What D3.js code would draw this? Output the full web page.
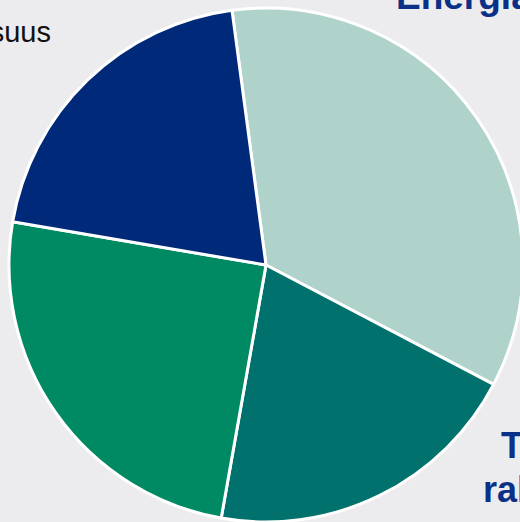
<!DOCTYPE html>
<html><head><meta charset="utf-8">
<script src="https://cdn.jsdelivr.net/npm/d3@7"></script>
<style>html,body{margin:0;padding:0;background:#ececee;}svg{display:block;}</style>
</head><body>
<svg id="c" width="520" height="522"></svg>
<script>
const categories = ["Energiantuotanto", "Teollisuus ja rakentaminen", "Liikenne", "Teollisuus"];
const values = [34.8, 20.1, 24.9, 20.2];
const colors = ["#afd2ca", "#00716c", "#008a63", "#00297a"];

const svg = d3.select("#c");
const cx = 266, cy = 265, r = 257;
const startDeg = -7.6;

const pie = d3.pie().sort(null).value(d => d)
  .startAngle(startDeg * Math.PI / 180)
  .endAngle((startDeg + 360) * Math.PI / 180);
const arc = d3.arc().innerRadius(0).outerRadius(r);
const color = d3.scaleOrdinal().domain(categories).range(colors);

const g = svg.append("g").attr("transform", `translate(${cx},${cy})`);
g.selectAll("path").data(pie(values)).join("path")
  .attr("d", arc)
  .attr("fill", (d, i) => color(categories[i]))
  .attr("stroke", "#fff").attr("stroke-width", 3).attr("stroke-linejoin", "round");

// labels
svg.append("text").attr("x", 396).attr("y", 9)
  .attr("font-family", "Liberation Sans, Arial, sans-serif").attr("font-weight", "bold")
  .attr("font-size", 37).attr("fill", "#0a3087").text("Energiantuotanto");
svg.append("text").attr("x", 51).attr("y", 42).attr("text-anchor", "end")
  .attr("font-family", "Liberation Sans, Arial, sans-serif")
  .attr("font-size", 29).attr("fill", "#111").text("Teollisuus");
const t = svg.append("text").attr("font-family", "Liberation Sans, Arial, sans-serif")
  .attr("font-weight", "bold").attr("font-size", 36).attr("fill", "#0a3087");
t.append("tspan").attr("x", 501).attr("y", 458).text("Teollisuus");
t.append("tspan").attr("x", 483).attr("y", 502).text("rakentaminen");
</script>
</body></html>
